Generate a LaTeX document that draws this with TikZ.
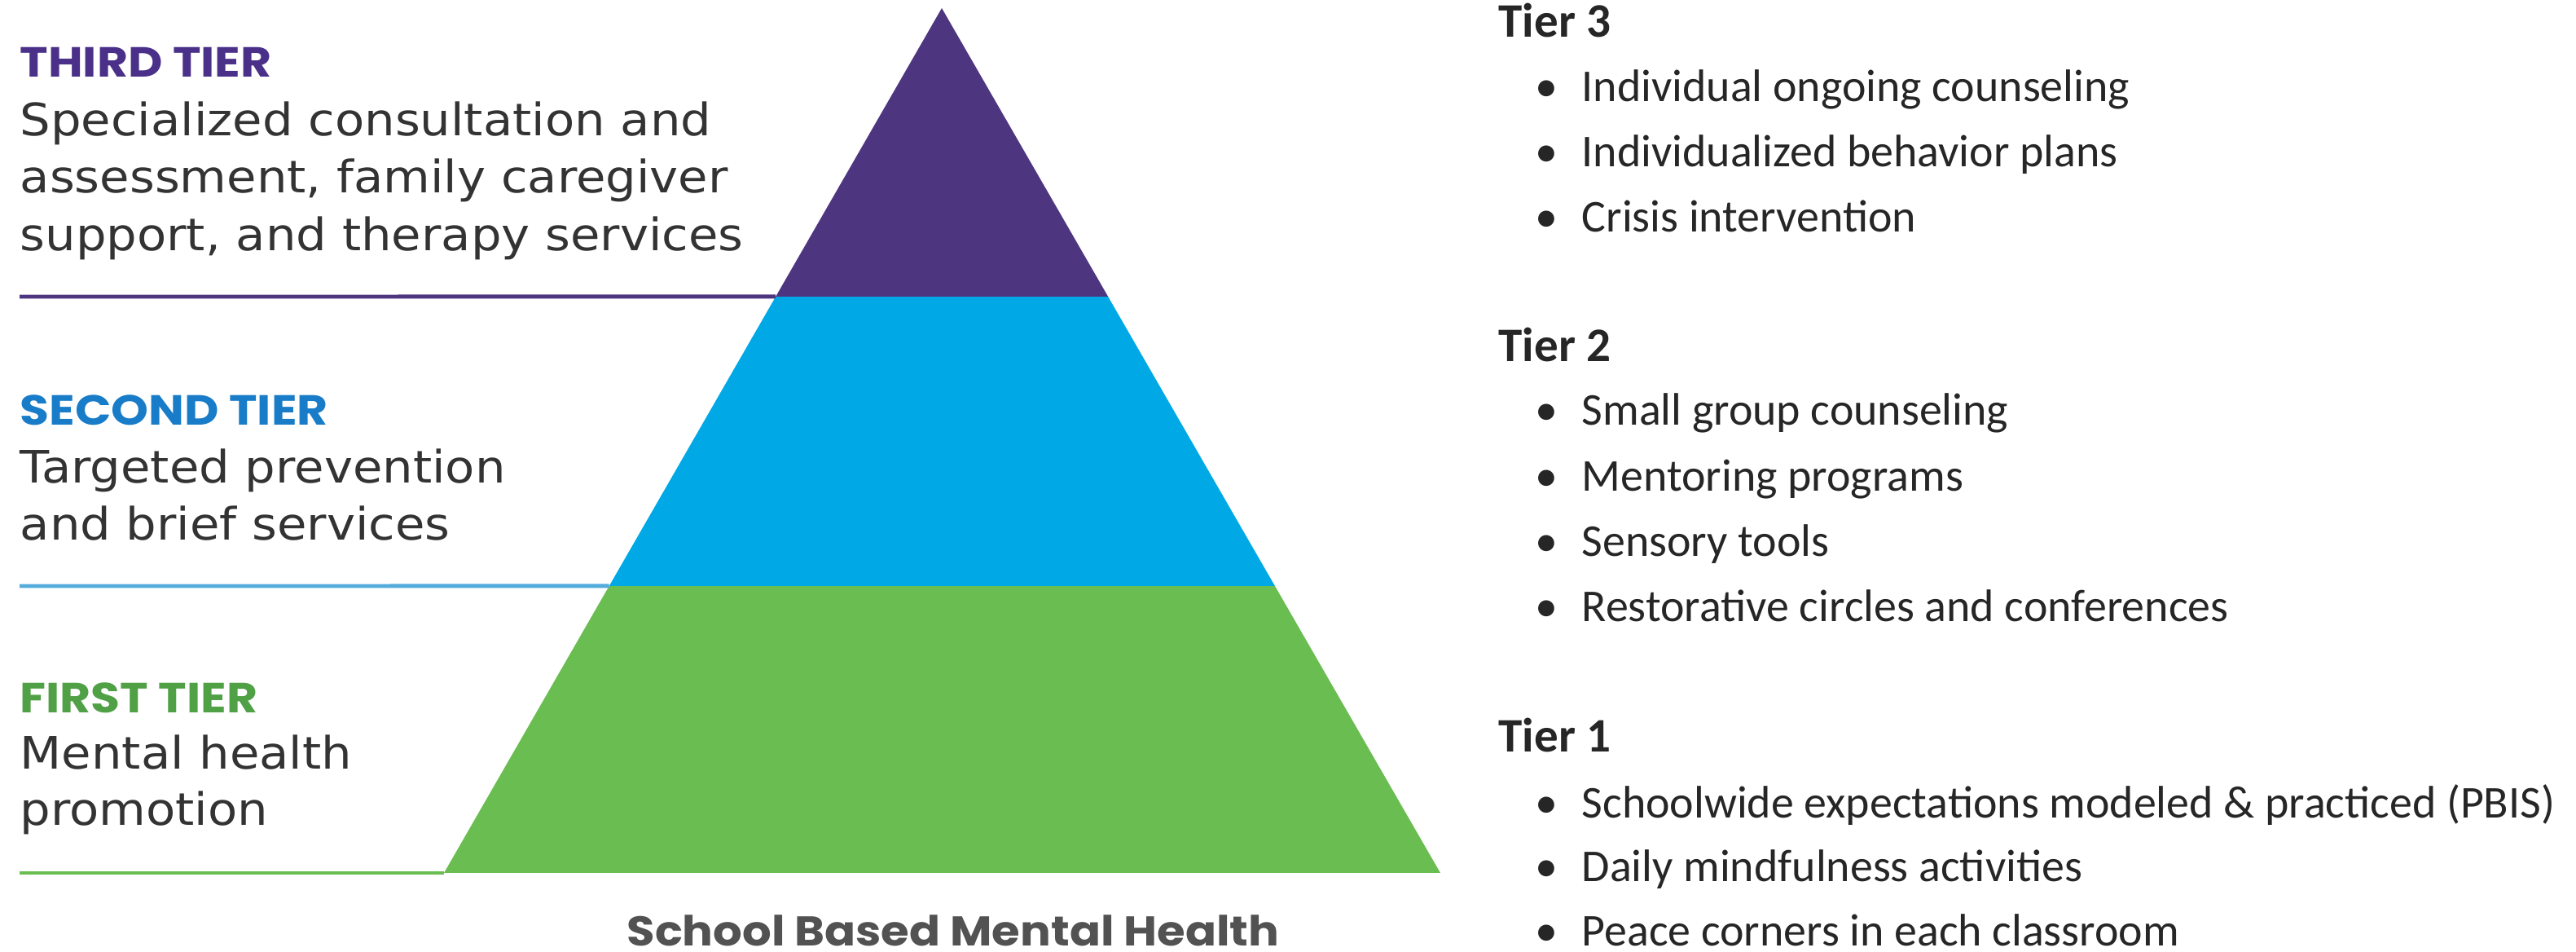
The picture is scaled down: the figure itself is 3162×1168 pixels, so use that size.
\documentclass[tikz,border=0pt]{standalone}
\usepackage{fontspec}
\usetikzlibrary{positioning,calc}
\setmainfont{DejaVu Sans}
\newfontfamily\tierfont{DejaVu Sans}[FakeStretch=1.08]
\newfontfamily\popfont{Poppins}[FakeStretch=1.13]
\newfontfamily\capfont{Poppins}[FakeStretch=1.1]
\newfontfamily\listfont{Carlito}

\definecolor{tierpurple}{RGB}{78,53,128}
\definecolor{tierblue}{RGB}{0,169,230}
\definecolor{tiergreen}{RGB}{106,189,80}
\definecolor{headpurple}{RGB}{74,48,136}
\definecolor{headblue}{RGB}{24,124,200}
\definecolor{headgreen}{RGB}{80,160,70}
\definecolor{lineblue}{RGB}{84,172,220}
\definecolor{bodygray}{RGB}{51,51,51}
\definecolor{capgray}{RGB}{82,82,82}
\definecolor{listgray}{RGB}{38,38,38}

\tikzset{
	tierhead/.style={anchor=base west,inner sep=0pt,font=\popfont\bfseries\fontsize{14.7}{18}\selectfont},
	tiertext/.style={anchor=base west,inner sep=0pt,text=bodygray,font=\tierfont\fontsize{15.6}{20}\selectfont},
	listhead/.style={anchor=base west,inner sep=0pt,text=listgray,font=\listfont\bfseries\fontsize{16.8}{20}\selectfont},
	listitem/.style={anchor=base west,inner sep=0pt,text=listgray,font=\listfont\fontsize{15.9}{19}\selectfont},
	listdot/.style={anchor=base,inner sep=0pt,text=listgray,font=\listfont\fontsize{15.9}{19}\selectfont},
	tierline/.style={line width=1.4pt}
}

\begin{document}
\begin{tikzpicture}[x=0.01cm,y=-0.01cm]

	\useasboundingbox (0,0) rectangle (3162,1168);

	% Pyramid
	\coordinate (apex) at (1156,10);
	\coordinate (baseL) at (545,1071);
	\coordinate (baseR) at (1768,1071);
	\coordinate (topL) at ($(apex)!0.3336!(baseL)$);
	\coordinate (topR) at ($(apex)!0.3336!(baseR)$);
	\coordinate (midL) at ($(apex)!0.6682!(baseL)$);
	\coordinate (midR) at ($(apex)!0.6682!(baseR)$);
	\fill[tiergreen] (midL) -- (midR) -- (baseR) -- (baseL) -- cycle;
	\fill[tierblue] (topL) -- (topR) -- (midR) -- (midL) -- cycle;
	\fill[tierpurple] (apex) -- (topR) -- (topL) -- cycle;

	% Rules to the left
	\coordinate (ruleT) at (24,364);
	\coordinate (ruleM) at (24,719);
	\coordinate (ruleB) at (24,1071);
	\draw[tierline,tierpurple] (ruleT) -- (topL);
	\draw[tierline,lineblue] (ruleM) -- (midL);
	\draw[tierline,tiergreen] (ruleB) -- (baseL);

	% Third tier
	\node[tierhead,text=headpurple] (third) at (24,95) {THIRD TIER};
	\node[tiertext] (thirdA) at (24,167) {Specialized consultation and};
	\node[tiertext] (thirdB) at (24,237) {assessment, family caregiver};
	\node[tiertext] (thirdC) at (24,308) {support, and therapy services};

	% Second tier
	\node[tierhead,text=headblue] (second) at (24,522) {SECOND TIER};
	\node[tiertext] (secondA) at (24,593) {Targeted prevention};
	\node[tiertext] (secondB) at (24,663) {and brief services};

	% First tier
	\node[tierhead,text=headgreen] (first) at (24,875) {FIRST TIER};
	\node[tiertext] (firstA) at (24,944) {Mental health};
	\node[tiertext] (firstB) at (24,1013) {promotion};

	\node[anchor=base,inner sep=0pt,text=capgray,font=\capfont\bfseries\fontsize{14.5}{18}\selectfont] (caption) at (1170,1161) {School Based Mental Health};

	% Tier 3 list
	\node[listhead] (tierC) at (1839,46) {Tier 3};
	\node[listdot] (dotC1) at (1898,125) {•};
	\node[listitem] (itemC1) at (1941,125) {Individual ongoing counseling};
	\node[listdot] (dotC2) at (1898,205) {•};
	\node[listitem] (itemC2) at (1941,205) {Individualized behavior plans};
	\node[listdot] (dotC3) at (1898,285) {•};
	\node[listitem] (itemC3) at (1941,285) {Crisis intervention};

	% Tier 2 list
	\node[listhead] (tierB) at (1839,444) {Tier 2};
	\node[listdot] (dotB1) at (1898,522) {•};
	\node[listitem] (itemB1) at (1941,522) {Small group counseling};
	\node[listdot] (dotB2) at (1898,603) {•};
	\node[listitem] (itemB2) at (1941,603) {Mentoring programs};
	\node[listdot] (dotB3) at (1898,683) {•};
	\node[listitem] (itemB3) at (1941,683) {Sensory tools};
	\node[listdot] (dotB4) at (1898,763) {•};
	\node[listitem] (itemB4) at (1941,763) {Restorative circles and conferences};

	% Tier 1 list
	\node[listhead] (tierA) at (1839,923) {Tier 1};
	\node[listdot] (dotA1) at (1898,1004) {•};
	\node[listitem] (itemA1) at (1941,1004) {Schoolwide expectations modeled \& practiced (PBIS)};
	\node[listdot] (dotA2) at (1898,1082) {•};
	\node[listitem] (itemA2) at (1941,1082) {Daily mindfulness activities};
	\node[listdot] (dotA3) at (1898,1161) {•};
	\node[listitem] (itemA3) at (1941,1161) {Peace corners in each classroom};

\end{tikzpicture}
\end{document}
